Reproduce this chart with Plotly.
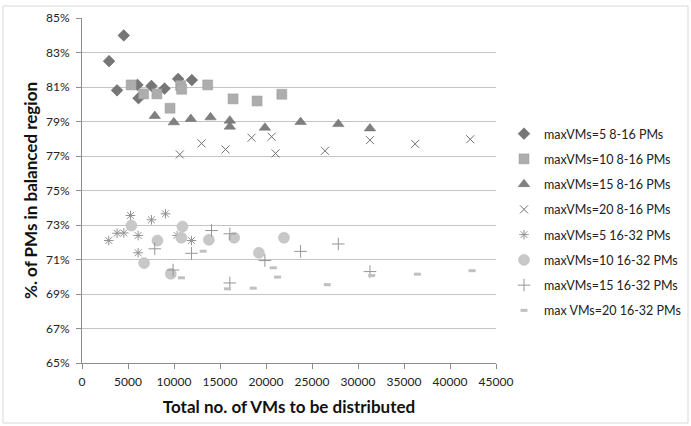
import plotly.graph_objects as go

# ---- data (x: total VMs, y: % of PMs in balanced region) ----
d5_8_x = [2940, 4540, 3810, 6030, 6140, 7550, 8970, 10450, 11940]
d5_8_y = [82.50, 83.99, 80.81, 81.12, 80.35, 81.06, 80.91, 81.47, 81.40]

d10_8_x = [5340, 6700, 8140, 9570, 10720, 10830, 13660, 16420, 19030, 21720]
d10_8_y = [81.12, 80.60, 80.60, 79.77, 81.08, 80.87, 81.12, 80.31, 80.19, 80.58]

d15_8_x = [7910, 9980, 11830, 13970, 16070, 16070, 19880, 23760, 27860, 31300]
d15_8_y = [79.32, 78.95, 79.15, 79.24, 79.05, 78.70, 78.64, 78.97, 78.85, 78.60]

d20_8_x = [10630, 12990, 15600, 18430, 20610, 21040, 26410, 31300, 36210, 42200]
d20_8_y = [77.09, 77.73, 77.38, 78.06, 78.12, 77.15, 77.30, 77.92, 77.70, 77.97]

d5_16_x = [2905, 3810, 4540, 5270, 6100, 6100, 7550, 9070, 10340, 11900]
d5_16_y = [72.10, 72.52, 72.54, 73.55, 72.39, 71.39, 73.30, 73.65, 72.39, 72.10]

d10_16_x = [5370, 6750, 8200, 9650, 10920, 10810, 13790, 16540, 19230, 21950]
d10_16_y = [72.97, 70.79, 72.10, 70.17, 72.91, 72.26, 72.14, 72.26, 71.39, 72.26]

d15_16_x = [7910, 9900, 11900, 14080, 16070, 16070, 19880, 23760, 27860, 31300]
d15_16_y = [71.62, 70.39, 71.36, 72.68, 69.64, 72.49, 70.94, 71.47, 71.90, 70.30]

d20_16_x = [10810, 13170, 15820, 18610, 20790, 21260, 26660, 31490, 36450, 42400]
d20_16_y = [69.94, 71.48, 69.30, 69.34, 70.52, 69.98, 69.54, 70.07, 70.15, 70.35]

series_names = ["maxVMs=5 8-16 PMs", "maxVMs=10 8-16 PMs", "maxVMs=15 8-16 PMs",
                "maxVMs=20 8-16 PMs", "maxVMs=5 16-32 PMs", "maxVMs=10 16-32 PMs",
                "maxVMs=15 16-32 PMs", "max VMs=20 16-32 PMs"]

x_ticks = [0, 5000, 10000, 15000, 20000, 25000, 30000, 35000, 40000, 45000]
y_ticks = [65, 67, 69, 71, 73, 75, 77, 79, 81, 83, 85]
y_tick_labels = ["65%", "67%", "69%", "71%", "73%", "75%", "77%", "79%", "81%", "83%", "85%"]

series = [
    (d5_8_x, d5_8_y, dict(symbol="diamond", size=9, color="#767676", line=dict(color="#5e5e5e", width=0.5))),
    (d10_8_x, d10_8_y, dict(symbol="square", size=10, color="#adadad", line=dict(color="#9c9c9c", width=0.5))),
    (d15_8_x, d15_8_y, dict(symbol="triangle-up", size=10, color="#7f7f7f", line=dict(color="#6c6c6c", width=0.5))),
    (d20_8_x, d20_8_y, dict(symbol="x-thin-open", size=8, color="#727272", line=dict(color="#727272", width=1))),
    (d5_16_x, d5_16_y, dict(symbol="asterisk-open", size=8, color="#929292", line=dict(color="#929292", width=1))),
    (d10_16_x, d10_16_y, dict(symbol="circle", size=11, color="#c8c8c8", line=dict(color="#b8b8b8", width=0.5))),
    (d15_16_x, d15_16_y, dict(symbol="cross-thin-open", size=9, color="#959595", line=dict(color="#959595", width=1))),
    (d20_16_x, d20_16_y, dict(symbol="line-ew-open", size=5, color="#c0c0c0", line=dict(color="#c0c0c0", width=3))),
]

fig = go.Figure()
for i, ((xs, ys, mk), name) in enumerate(zip(series, series_names)):
    fig.add_trace(go.Scatter(x=xs, y=ys, mode="markers", name=name, marker=mk,
                             legendgroup="g%d" % i))

L, R, T, B = 82, 195, 18, 63
pw = 691 - L - R
ph = 426 - T - B

fig.update_layout(
    width=691, height=426, autosize=False,
    margin=dict(l=L, r=R, t=T, b=B, pad=0, autoexpand=False),
    paper_bgcolor="white", plot_bgcolor="white",
    font=dict(family="Lato, Carlito, Calibri, sans-serif", size=12, color="#222222"),
    showlegend=True,
    legend=dict(x=(504 - L) / pw, y=1 - (119 - T) / ph, xanchor="left", yanchor="top",
                font=dict(size=12.5, color="#222222"), traceorder="grouped",
                tracegroupgap=6, itemwidth=30, bgcolor="rgba(0,0,0,0)"),
    xaxis=dict(range=[0, 45000], tickvals=x_ticks, tickformat="d", automargin=False,
               showgrid=False, zeroline=False, showline=True, linecolor="#8c8c8c",
               linewidth=1, ticks="outside", ticklen=5, tickcolor="#8c8c8c",
               ticklabelstandoff=3,
               tickfont=dict(size=12, color="#222222"),
               title=dict(text="<b>Total no. of VMs to be distributed</b>",
                          font=dict(size=17, color="#111111"), standoff=12)),
    yaxis=dict(range=[65, 85], tickvals=y_ticks, ticktext=y_tick_labels, automargin=False,
               showgrid=True, gridcolor="#c4c4c4", gridwidth=1,
               zeroline=False, showline=True, linecolor="#8c8c8c", linewidth=1,
               ticks="outside", ticklen=5, tickcolor="#8c8c8c", ticklabelstandoff=4,
               tickfont=dict(size=12, color="#222222"),
               title=dict(text="<b>%. of PMs in balanced region</b>",
                          font=dict(size=17, color="#111111"), standoff=4)),
    shapes=[dict(type="rect", xref="paper", yref="paper",
                 x0=(3 - L) / pw, x1=(688 - L) / pw,
                 y0=1 - (423 - T) / ph, y1=1 - (6 - T) / ph,
                 line=dict(color="#d9d9d9", width=1), fillcolor="rgba(0,0,0,0)",
                 layer="below")],
)

fig.write_html("out.html", config={"displayModeBar": False},
               post_script="document.body.style.margin='0';document.body.style.padding='0';")
